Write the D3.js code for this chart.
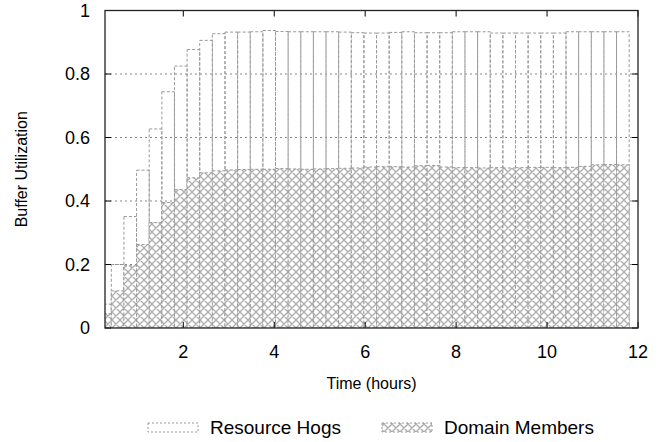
<!DOCTYPE html>
<head>
  <meta charset="utf-8">
  <style>
    body { margin: 0; background: #fff; }
    text { font-family: 'Liberation Sans', Arial, sans-serif; fill: #000; }
  </style>
</head>
<body>
  <script src="https://cdn.jsdelivr.net/npm/d3@7"></script>
  <script>
    // one bin every 1000 s, shown in hours
    const binHours = 1000 / 3600;
    const binIndex = d3.range(1, 43);
    // top of each bar (resource hogs) and hatched part (domain members)
    const hogsUtil = [
      0.075, 0.200, 0.351, 0.497, 0.627, 0.744, 0.825, 0.877, 0.906, 0.927,
      0.932, 0.932, 0.933, 0.937, 0.934, 0.933, 0.933, 0.933, 0.933, 0.932,
      0.930, 0.929, 0.929, 0.931, 0.933, 0.930, 0.930, 0.930, 0.933, 0.933,
      0.933, 0.929, 0.929, 0.929, 0.929, 0.929, 0.929, 0.933, 0.933, 0.933,
      0.933, 0.933
    ];
    const domainUtil = [
      0.045, 0.117, 0.196, 0.263, 0.332, 0.395, 0.436, 0.473, 0.489, 0.495,
      0.498, 0.499, 0.500, 0.500, 0.502, 0.501, 0.500, 0.501, 0.502, 0.503,
      0.504, 0.507, 0.508, 0.508, 0.507, 0.511, 0.512, 0.507, 0.505, 0.505,
      0.504, 0.505, 0.504, 0.505, 0.506, 0.506, 0.505, 0.506, 0.509, 0.514,
      0.515, 0.514
    ];
    const xTicks = [2, 4, 6, 8, 10, 12];
    const yTicks = [0, 0.2, 0.4, 0.6, 0.8, 1];
    const seriesNames = ["Resource Hogs", "Domain Members"];

    const width = 665, height = 442;
    const plotLeft = 105, plotRight = 638, plotTop = 10.5, plotBottom = 328;

    const svg = d3.select("body").append("svg")
      .attr("width", width).attr("height", height);

    const defs = svg.append("defs");
    const pat = defs.append("pattern")
      .attr("id", "xhatch")
      .attr("patternUnits", "userSpaceOnUse")
      .attr("width", 8).attr("height", 8);
    pat.append("rect").attr("width", 8).attr("height", 8).attr("fill", "#fff");
    pat.append("path")
      .attr("d", "M0,0L8,8M0,8L8,0M-1,1L1,-1M7,9L9,7M-1,7L1,9M7,-1L9,1")
      .attr("stroke", "#adadad").attr("stroke-width", 1.25).attr("fill", "none");

    defs.append("clipPath").attr("id", "plotclip")
      .append("rect").attr("x", plotLeft).attr("y", plotTop)
      .attr("width", plotRight - plotLeft).attr("height", plotBottom - plotTop);

    const x = d3.scaleLinear().domain([binHours, 12]).range([plotLeft, plotRight]);
    const y = d3.scaleLinear().domain([0, 1]).range([plotBottom, plotTop]);

    // horizontal grid
    svg.append("g").selectAll("line")
      .data(yTicks.filter(d => d > 0 && d < 1)).enter().append("line")
      .attr("x1", plotLeft).attr("x2", plotRight)
      .attr("y1", d => y(d)).attr("y2", d => y(d))
      .attr("stroke", "#888").attr("stroke-dasharray", "2,3");

    const bars = svg.append("g").attr("clip-path", "url(#plotclip)");
    const bw = x(binHours) - x(0);
    const data = binIndex.map((k, i) => ({ t: k * binHours, hogs: hogsUtil[i], dom: domainUtil[i] }));

    bars.selectAll(".hog").data(data).enter().append("rect")
      .attr("class", "hog")
      .attr("x", d => x(d.t) - bw / 2).attr("width", bw)
      .attr("y", d => y(d.hogs)).attr("height", d => y(0) - y(d.hogs))
      .attr("fill", "none").attr("stroke", "#999").attr("stroke-dasharray", "3,2");

    bars.selectAll(".dom").data(data).enter().append("rect")
      .attr("class", "dom")
      .attr("x", d => x(d.t) - bw / 2).attr("width", bw)
      .attr("y", d => y(d.dom)).attr("height", d => y(0) - y(d.dom))
      .attr("fill", "url(#xhatch)").attr("stroke", "#999").attr("stroke-dasharray", "3,2");

    // ticks (inward, mirrored)
    const tk = svg.append("g").attr("stroke", "#000");
    yTicks.forEach(v => {
      tk.append("line").attr("x1", plotLeft).attr("x2", plotLeft + 6).attr("y1", y(v)).attr("y2", y(v));
      tk.append("line").attr("x1", plotRight).attr("x2", plotRight - 6).attr("y1", y(v)).attr("y2", y(v));
    });
    xTicks.forEach(v => {
      tk.append("line").attr("x1", x(v)).attr("x2", x(v)).attr("y1", plotTop).attr("y2", plotTop + 6);
      tk.append("line").attr("x1", x(v)).attr("x2", x(v)).attr("y1", plotBottom).attr("y2", plotBottom - 6);
    });

    svg.append("rect").attr("x", plotLeft).attr("y", plotTop)
      .attr("width", plotRight - plotLeft).attr("height", plotBottom - plotTop)
      .attr("fill", "none").attr("stroke", "#222").attr("stroke-width", 1.3);

    // tick labels
    svg.append("g").selectAll("text").data(yTicks).enter().append("text")
      .attr("x", 90).attr("y", d => y(d)).attr("dy", "0.36em")
      .attr("text-anchor", "end").style("font-size", "18px")
      .text(d => d3.format("")(d));
    svg.append("g").selectAll("text").data(xTicks).enter().append("text")
      .attr("x", d => x(d)).attr("y", 358)
      .attr("text-anchor", "middle").style("font-size", "18px")
      .text(d => d);

    svg.append("text").attr("x", (plotLeft + plotRight) / 2).attr("y", 389)
      .attr("text-anchor", "middle").style("font-size", "16px").text("Time (hours)");
    svg.append("text")
      .attr("transform", "translate(27," + ((plotTop + plotBottom) / 2) + ") rotate(-90)")
      .attr("text-anchor", "middle").style("font-size", "16px").text("Buffer Utilization");

    // legend
    const lg = svg.append("g");
    const legendX = [148, 382];
    seriesNames.forEach((name, i) => {
      lg.append("rect").attr("x", legendX[i]).attr("y", 423).attr("width", 50).attr("height", 9)
        .attr("fill", i ? "url(#xhatch)" : "none")
        .attr("stroke", "#999").attr("stroke-dasharray", "2,2");
      lg.append("text").attr("x", legendX[i] + 62).attr("y", 434)
        .style("font-size", "19px").text(name);
    });
  </script>
</body>
